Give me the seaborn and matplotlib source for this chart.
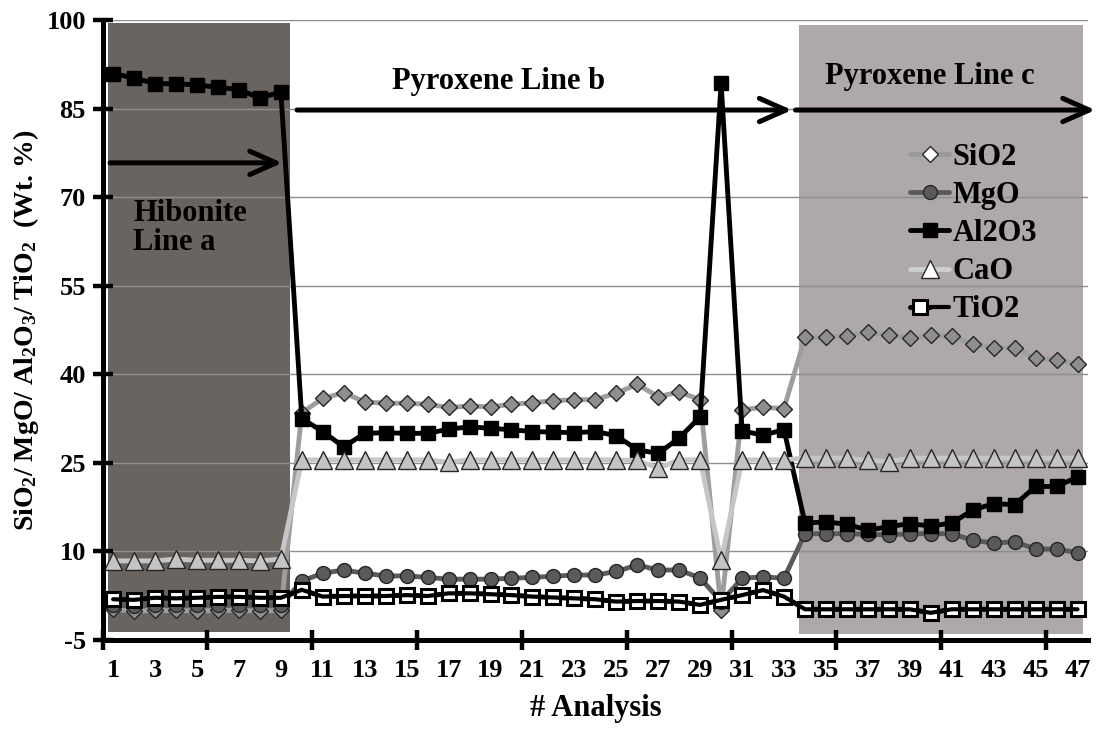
import matplotlib
matplotlib.use("Agg")
import matplotlib.pyplot as plt
import seaborn as sns
import pandas as pd
from matplotlib.patches import Rectangle
from matplotlib.lines import Line2D
from matplotlib.legend_handler import HandlerTuple

# ---------------- data ----------------
analysis = list(range(1, 48))
xtick_labels = list(range(1, 48, 2))
yticks = list(range(-5, 101, 15))

sio2 = [0.2, -0.1, 0.0, 0.0, -0.1, 0.0, 0.0, -0.1, 0.0,
        33.5, 35.9, 36.9, 35.3, 35.1, 35.1, 34.9, 34.4, 34.6, 34.5,
        34.9, 35.2, 35.5, 35.7, 35.7, 36.8, 38.3, 36.2, 37.0, 35.7,
        0.1, 34.0, 34.4, 34.2,
        46.3, 46.3, 46.5, 47.1, 46.7, 46.1, 46.6, 46.4, 45.2, 44.4,
        44.5, 42.7, 42.5, 41.7]
mgo = [0.9, 0.8, 0.9, 0.9, 0.9, 1.0, 1.0, 0.9, 0.9,
       5.0, 6.3, 6.85, 6.3, 5.85, 5.85, 5.6, 5.3, 5.3, 5.3,
       5.45, 5.6, 5.8, 6.0, 6.0, 6.6, 7.7, 6.85, 6.85, 5.5,
       1.5, 5.45, 5.7, 5.45,
       13.0, 13.0, 13.0, 12.9, 12.8, 13.0, 13.0, 13.0, 11.9, 11.4,
       11.65, 10.4, 10.4, 9.8]
al2o3 = [90.9, 90.2, 89.2, 89.2, 89.0, 88.6, 88.2, 86.8, 87.8,
         32.5, 30.3, 27.7, 30.0, 30.1, 30.0, 30.0, 30.7, 31.1, 30.85,
         30.6, 30.3, 30.2, 30.1, 30.3, 29.6, 27.2, 26.6, 29.2, 32.8,
         89.3, 30.4, 29.7, 30.6,
         14.8, 15.0, 14.6, 13.6, 14.2, 14.7, 14.3, 14.8, 17.0, 18.1,
         17.9, 21.0, 21.0, 22.6]
cao = [8.4, 8.4, 8.4, 8.7, 8.5, 8.5, 8.5, 8.4, 8.7,
       25.5, 25.5, 25.5, 25.5, 25.5, 25.5, 25.5, 25.1, 25.5, 25.5,
       25.5, 25.5, 25.5, 25.5, 25.5, 25.5, 25.4, 24.1, 25.5, 25.5,
       8.5, 25.5, 25.5, 25.5,
       25.8, 25.8, 25.8, 25.4, 25.2, 25.8, 25.8, 25.8, 25.8, 25.8,
       25.8, 25.8, 25.8, 25.8]
tio2 = [1.9, 1.8, 2.15, 2.05, 2.15, 2.3, 2.3, 2.15, 2.15,
        3.5, 2.35, 2.45, 2.45, 2.45, 2.6, 2.45, 2.9, 2.9, 2.75,
        2.6, 2.35, 2.2, 2.05, 1.9, 1.5, 1.6, 1.6, 1.5, 0.95,
        1.8, 2.6, 3.45, 2.35,
        0.2, 0.2, 0.2, 0.2, 0.2, 0.2, -0.4, 0.2, 0.2, 0.2,
        0.2, 0.2, 0.2, 0.2]

series_names = ["SiO2", "MgO", "Al2O3", "CaO", "TiO2"]
df = pd.DataFrame({"Analysis": analysis, "SiO2": sio2, "MgO": mgo,
                   "Al2O3": al2o3, "CaO": cao, "TiO2": tio2})

# ---------------- style ----------------
sns.set_theme(style="white")
plt.rcParams["font.family"] = ["Liberation Serif", "DejaVu Serif"]
plt.rcParams["font.weight"] = "bold"
plt.rcParams["text.color"] = "black"
plt.rcParams["axes.labelcolor"] = "black"
plt.rcParams["xtick.color"] = "black"
plt.rcParams["ytick.color"] = "black"
plt.rcParams["axes.unicode_minus"] = False
plt.rcParams["mathtext.fontset"] = "custom"
plt.rcParams["mathtext.rm"] = "Liberation Serif:bold"
plt.rcParams["mathtext.it"] = "Liberation Serif:bold"
plt.rcParams["mathtext.bf"] = "Liberation Serif:bold"
plt.rcParams["mathtext.default"] = "rm"

styles = {
    "SiO2": dict(color="#9e9e9e", marker="D", markersize=8.5,
                 markerfacecolor="#8e8e8e", markeredgecolor="#262626", markeredgewidth=1.0),
    "MgO": dict(color="#5a5a5a", marker="o", markersize=10,
                markerfacecolor="#5a5a5a", markeredgecolor="#262626", markeredgewidth=1.0),
    "Al2O3": dict(color="black", marker="s", markersize=10.5,
                  markerfacecolor="black", markeredgecolor="black", markeredgewidth=1.0),
    "CaO": dict(color="#c6c6c6", marker="^", markersize=12.5,
                markerfacecolor="#c4c4c4", markeredgecolor="#262626", markeredgewidth=1.0),
    "TiO2": dict(color="black", marker="s", markersize=10,
                 markerfacecolor="white", markeredgecolor="black", markeredgewidth=2.2),
}

fig = plt.figure(figsize=(10.98, 7.29), dpi=100)
ax = fig.add_axes([0.0935, 0.1221, 0.8974, 0.8505])

# shaded regions
ax.add_patch(Rectangle((0.75, -3.6), 9.44 - 0.75, 99.5 + 3.6,
                       facecolor="#6a6461", edgecolor="none", zorder=0.2))
ax.add_patch(Rectangle((33.73, -4.0), 47.27 - 33.73, 99.2 + 4.0,
                       facecolor="#aea8a8", edgecolor="none", zorder=0.2))

for k, name in enumerate(series_names):
    sns.lineplot(data=df, x="Analysis", y=name, ax=ax, linewidth=3.5,
                 zorder=3 + k, sort=False, legend=False, **styles[name])
# black TiO2 line passes over its open squares
sns.lineplot(data=df, x="Analysis", y="TiO2", ax=ax, color="black",
             linewidth=3.0, zorder=8.5, sort=False, legend=False)

# axes
ax.set_xlim(0.5, 47.5)
ax.set_ylim(-5, 100)
ax.set_yticks(yticks)
ax.set_xticks(xtick_labels)
ax.set_xticks([0.5 + 5 * i for i in range(10)], minor=True)
ax.tick_params(axis="y", direction="inout", length=14, width=3.2,
               labelsize=19, pad=5, color="black", left=True)
ax.tick_params(axis="x", which="major", length=0, labelsize=19, pad=14, bottom=True)
ax.tick_params(axis="x", which="minor", direction="inout", length=14, width=3.2,
               color="black", bottom=True)
for lab in ax.get_xticklabels() + ax.get_yticklabels():
    lab.set_fontweight("bold")

ax.set_axisbelow(True)
ax.yaxis.grid(True, color="#8e8e8e", linewidth=1.0)
ax.xaxis.grid(False)
for s in ["top", "right"]:
    ax.spines[s].set_visible(False)
for s in ["left", "bottom"]:
    ax.spines[s].set_color("black")
    ax.spines[s].set_linewidth(3.6)
    ax.spines[s].set_zorder(10)

ax.set_xlabel("# Analysis", fontsize=22, fontweight="bold", labelpad=8)
ax.set_ylabel(r"SiO$_2$/ MgO/ Al$_2$O$_3$/ TiO$_2$  (Wt. %)", fontsize=20,
              fontweight="bold", labelpad=4)

# annotations
ax.text(1.95, 64.8, "Hibonite\nLine a", fontsize=22, fontweight="bold",
        ha="left", va="center", linespacing=1.0, zorder=12)
ax.text(19.4, 89.5, "Pyroxene Line b", fontsize=22, fontweight="bold",
        ha="center", va="center", zorder=12)
ax.text(39.96, 90.4, "Pyroxene Line c", fontsize=22, fontweight="bold",
        ha="center", va="center", zorder=12)

arrow_kw = dict(arrowstyle="->,head_length=0.95,head_width=0.42", lw=3.6,
                color="black", shrinkA=0, shrinkB=0, mutation_scale=20)
ax.annotate("", xy=(9.07, 75.8), xytext=(0.85, 75.8), arrowprops=arrow_kw,
            annotation_clip=False, zorder=12)
ax.annotate("", xy=(33.38, 84.75), xytext=(9.77, 84.75), arrowprops=arrow_kw,
            annotation_clip=False, zorder=12)
ax.annotate("", xy=(47.85, 84.75), xytext=(33.55, 84.75), arrowprops=arrow_kw,
            annotation_clip=False, zorder=12)

# legend
def proxy(name, **over):
    st = dict(styles[name])
    st.update(over)
    return Line2D([], [], linewidth=3.5, **st)

handles = [
    proxy("SiO2", markerfacecolor="white", color="#9a9a9a"),
    proxy("MgO"),
    proxy("Al2O3"),
    proxy("CaO", markerfacecolor="white", color="#cfcfcf"),
    (proxy("TiO2"), Line2D([], [], color="black", linewidth=3.0)),
]
leg = ax.legend(handles, series_names, loc="upper left",
                bbox_to_anchor=(0.819, 0.802), frameon=False, fontsize=22,
                handlelength=1.3, handletextpad=0.1, borderpad=0,
                borderaxespad=0, labelspacing=0.3,
                handler_map={tuple: HandlerTuple(ndivide=None)})
for t in leg.get_texts():
    t.set_fontweight("bold")
    t.set_color("black")
leg.set_zorder(12)

fig.savefig("out.png", dpi=100)
